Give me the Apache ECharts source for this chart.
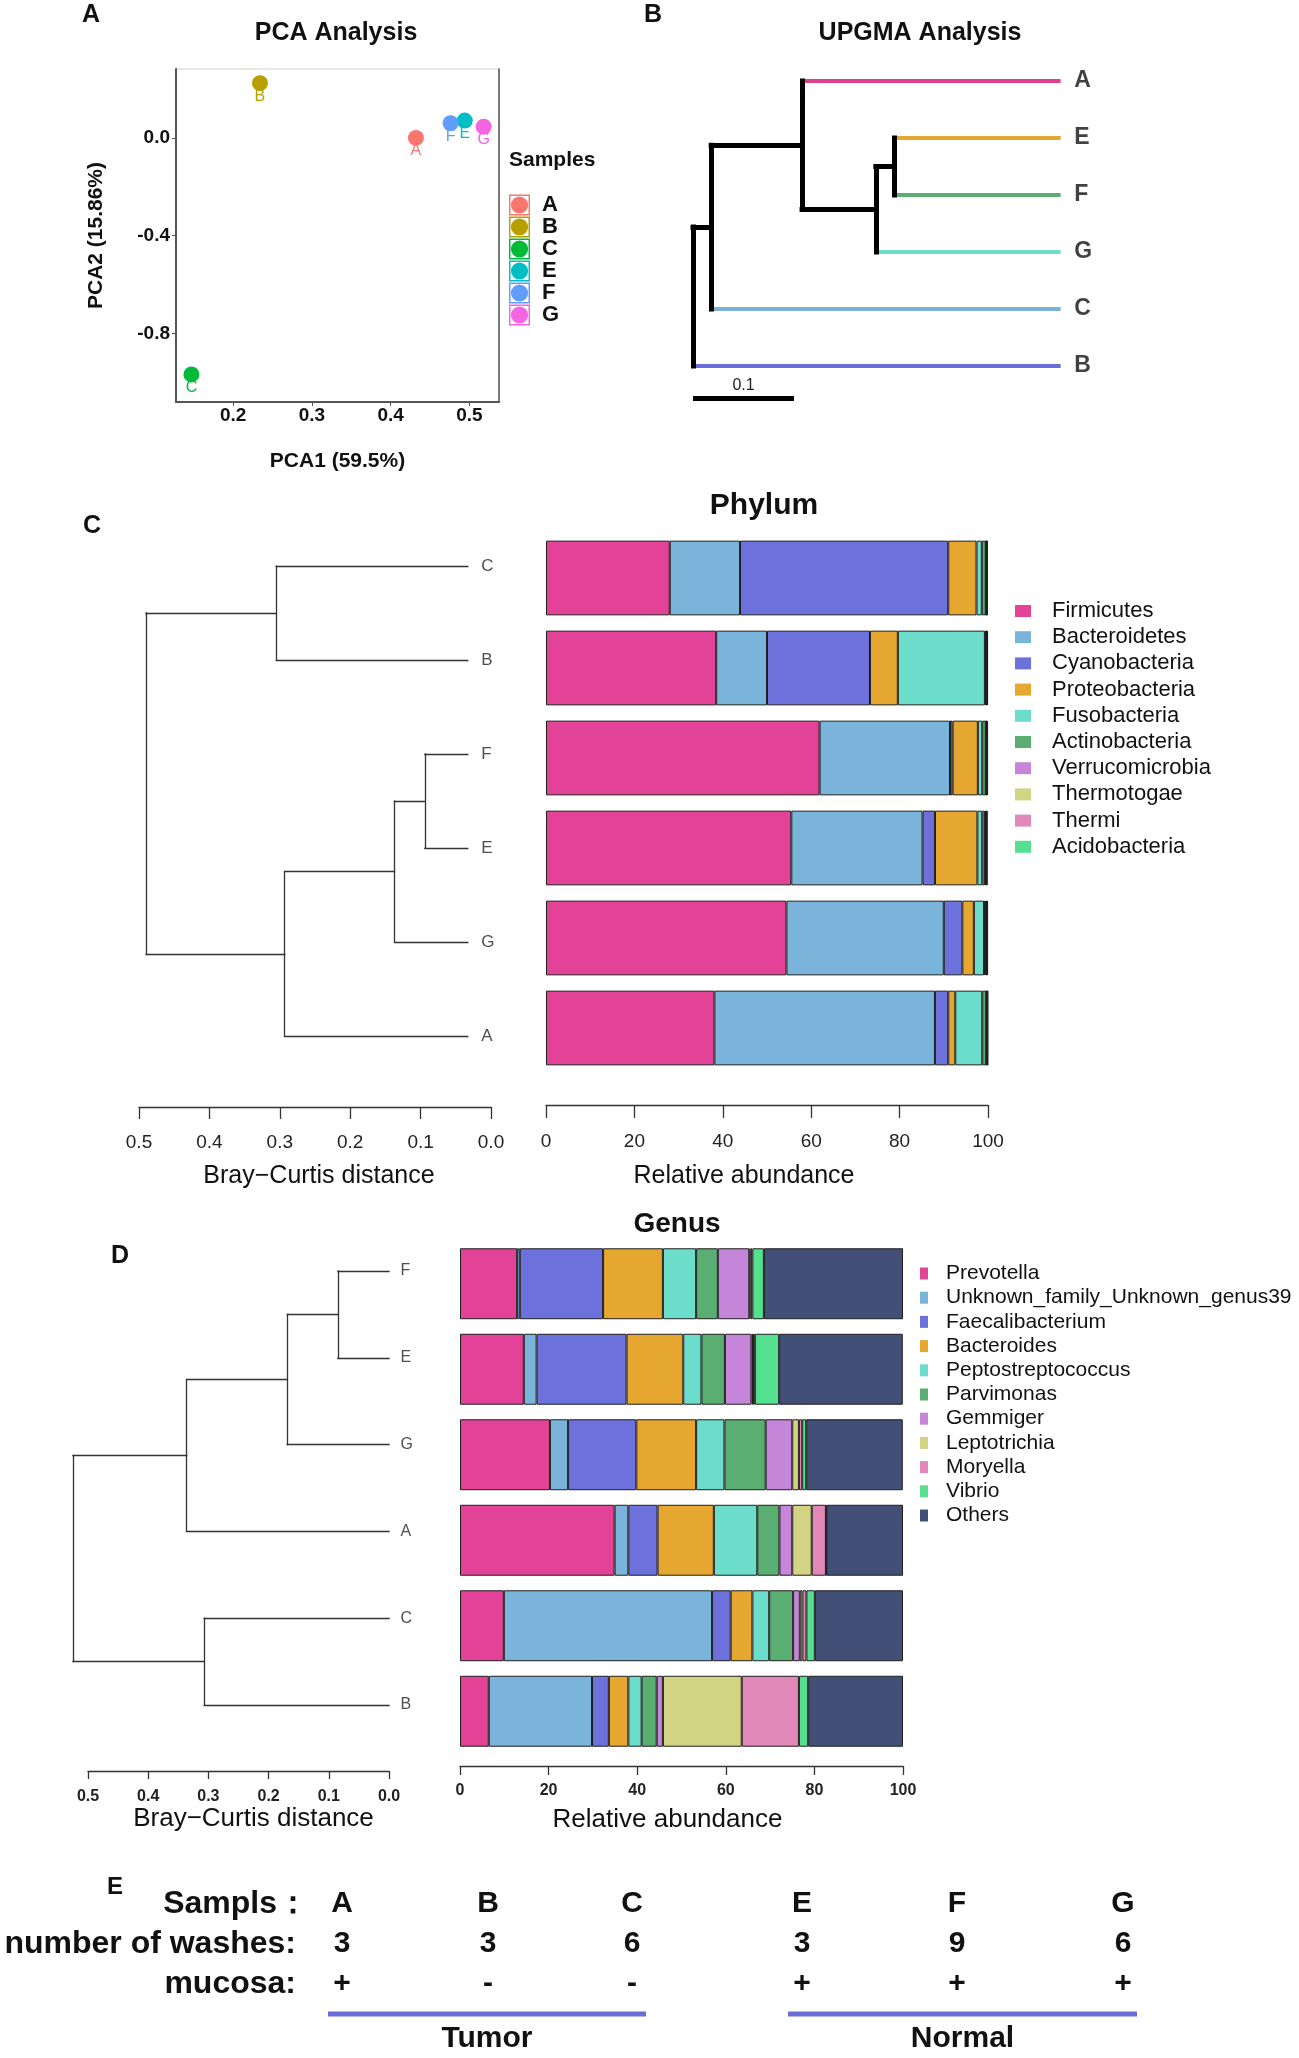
<!DOCTYPE html>
<html><head><meta charset="utf-8">
<script src="https://cdn.jsdelivr.net/npm/echarts@6/dist/echarts.min.js"></script>
<style>html,body{margin:0;padding:0;background:#fff}#c{width:1299px;height:2058px}</style>
</head><body><div id="c"></div>
<script>
// ---------------- Panel A: PCA ----------------
const pcaSamples = ['A', 'B', 'C', 'E', 'F', 'G'];
const pca1 = [0.432, 0.234, 0.147, 0.494, 0.476, 0.518];
const pca2 = [0.000, 0.224, -0.968, 0.071, 0.060, 0.046];
const pca1Ticks = [0.2, 0.3, 0.4, 0.5];
const pca2Ticks = [-0.8, -0.4, 0.0];

// ---------------- Panel B: UPGMA ----------------
const upgmaLeaves = ['A', 'E', 'F', 'G', 'C', 'B'];
const upgmaLeafDepth = 0.364;
const upgmaMerges = [['E', 'F', 0.199], ['n0', 'G', 0.181], ['A', 'n1', 0.108], ['n2', 'C', 0.018], ['n3', 'B', 0.0]];
const upgmaScaleBar = 0.1;

// ---------------- Panel C: Phylum ----------------
const phylumTreeLeaves = ['C', 'B', 'F', 'E', 'G', 'A'];
const phylumTreeMerges = [['F', 'E', 0.094], ['n0', 'G', 0.137], ['n1', 'A', 0.293], ['C', 'B', 0.305], ['n3', 'n2', 0.490]];
const phylumLeafHeight = 0.033;
const phylumSamples = ['C', 'B', 'F', 'E', 'G', 'A'];
const phylumNames = ['Firmicutes', 'Bacteroidetes', 'Cyanobacteria', 'Proteobacteria', 'Fusobacteria', 'Actinobacteria', 'Verrucomicrobia', 'Thermotogae', 'Thermi', 'Acidobacteria'];
const firmicutes      = [28.0, 38.5, 61.9, 55.5, 54.4, 38.1];
const bacteroidetes   = [15.9, 11.5, 29.5, 29.7, 35.6, 49.9];
const cyanobacteria   = [47.1, 23.3, 0.6, 2.8, 4.2, 3.0];
const proteobacteria  = [6.4, 6.3, 5.7, 9.6, 2.6, 1.6];
const fusobacteria    = [1.2, 19.7, 1.0, 1.1, 2.3, 6.1];
const actinobacteria  = [0.9, 0.2, 0.8, 0.6, 0.3, 0.9];
const verrucomicrobia = [0.1, 0.1, 0.1, 0.2, 0.2, 0.1];
const thermotogae     = [0.1, 0.1, 0.1, 0.1, 0.1, 0.1];
const thermi          = [0.1, 0.1, 0.1, 0.1, 0.1, 0.1];
const acidobacteria   = [0.1, 0.2, 0.2, 0.2, 0.2, 0.1];
const distTicksInterval = 0.1;
const abundanceInterval = 20;

// ---------------- Panel D: Genus ----------------
const genusTreeLeaves = ['F', 'E', 'G', 'A', 'C', 'B'];
const genusTreeMerges = [['F', 'E', 0.085], ['n0', 'G', 0.169], ['n1', 'A', 0.336], ['C', 'B', 0.307], ['n2', 'n3', 0.525]];
const genusLeafHeight = 0.0;
const genusSamples = ['F', 'E', 'G', 'A', 'C', 'B'];
const genusNames = ['Prevotella', 'Unknown_family_Unknown_genus39', 'Faecalibacterium', 'Bacteroides', 'Peptostreptococcus', 'Parvimonas', 'Gemmiger', 'Leptotrichia', 'Moryella', 'Vibrio', 'Others'];
const prevotella         = [12.9, 14.4, 20.3, 34.9, 9.9, 6.5];
const unknownGenus39     = [0.6, 2.9, 4.1, 3.1, 47.0, 23.3];
const faecalibacterium   = [18.8, 20.3, 15.4, 6.6, 4.2, 3.8];
const bacteroides        = [13.5, 12.8, 13.5, 12.7, 4.9, 4.4];
const peptostreptococcus = [7.5, 4.1, 6.4, 9.8, 3.8, 3.0];
const parvimonas         = [4.9, 5.3, 9.3, 5.0, 5.4, 3.4];
const gemmiger           = [7.1, 6.0, 6.0, 2.9, 1.5, 1.4];
const leptotrichia       = [0.3, 0.35, 1.5, 4.4, 0.6, 17.8];
const moryella           = [0.4, 0.4, 0.75, 3.2, 0.9, 12.9];
const vibrio             = [2.6, 5.5, 0.9, 0.1, 1.9, 2.1];
const others             = [31.4, 27.9, 21.8, 17.3, 19.9, 21.4];

// ---------------- Panel E: table ----------------
const eSamples = ['A', 'B', 'C', 'E', 'F', 'G'];
const eWashes = ['3', '3', '6', '3', '9', '6'];
const eMucosa = ['+', '-', '-', '+', '+', '+'];
const eRowLabels = ['Sampls：', 'number of washes:', 'mucosa:'];
const eGroups = [['Tumor', 0, 2], ['Normal', 3, 5]];

// ---------------- styles / layout ----------------
const FONT = "'Liberation Sans', Arial, Helvetica, sans-serif";
const pcaColors = ['#F8766D', '#B79F00', '#00BA38', '#00BFC4', '#619CFF', '#F564E3'];
const upgmaLeafColors = ['#E0418F', '#E5A631', '#5CAD71', '#6EDECB', '#7AB3DA', '#6B6ED6'];
const phylumColors = ['#E24396', '#7AB4DA', '#6D71DC', '#E6A730', '#6CDDCA', '#5BAE72', '#C586DA', '#D2D383', '#E288B8', '#55E08F'];
const genusColors = ['#E24396', '#7AB4DA', '#6D71DC', '#E6A730', '#6CDDCA', '#5BAE72', '#C586DA', '#D2D383', '#E288B8', '#55E08F', '#425077'];
const eColX = [342, 488, 632, 802, 957, 1123];
const eRowY = [1904, 1944, 1984];

const phylumSeriesData = [firmicutes, bacteroidetes, cyanobacteria, proteobacteria, fusobacteria, actinobacteria, verrucomicrobia, thermotogae, thermi, acidobacteria];
const genusSeriesData = [prevotella, unknownGenus39, faecalibacterium, bacteroides, peptostreptococcus, parvimonas, gemmiger, leptotrichia, moryella, vibrio, others];

function buildTree(leaves, merges, leafH) {
  const pos = {};
  leaves.forEach((n, i) => { pos[n] = { h: leafH, y: i, leaf: true, idx: i }; });
  const verts = [], horiz = [];
  merges.forEach((m, k) => {
    const a = pos[m[0]], b = pos[m[1]], h = m[2];
    verts.push({ coords: [[h, a.y], [h, b.y]] });
    [a, b].forEach(c => horiz.push({ coords: [[c.h, c.y], [h, c.y]], leaf: c.leaf, idx: c.idx }));
    pos['n' + k] = { h: h, y: (a.y + b.y) / 2, leaf: false };
  });
  return { verts, horiz };
}

function txt(text, x, y, size, weight, align, color) {
  return {
    type: 'text', silent: true, z: 100,
    style: {
      text: text, x: x, y: y, font: weight + ' ' + size + 'px ' + FONT, fill: color || '#111',
      align: align, verticalAlign: 'middle', textAlign: align, textVerticalAlign: 'middle'
    }
  };
}

const upgma = buildTree(upgmaLeaves, upgmaMerges, upgmaLeafDepth);
const phyTree = buildTree(phylumTreeLeaves, phylumTreeMerges, phylumLeafHeight);
const genTree = buildTree(genusTreeLeaves, genusTreeMerges, genusLeafHeight);

const keyIcon = 'path://M0 0H100V100H0Z M7 7V93H93V7Z M50 9A41 41 0 1 0 50.01 9Z';

const series = [];
// PCA points
pcaSamples.forEach((s, i) => {
  series.push({
    type: 'scatter', name: s, xAxisIndex: 0, yAxisIndex: 0,
    data: [[pca1[i], pca2[i]]], symbolSize: 16, itemStyle: { color: pcaColors[i], opacity: 1 },
    label: { show: true, position: 'bottom', distance: -3, formatter: s, color: pcaColors[i], fontSize: 16, fontFamily: FONT },
    silent: true
  });
});
// UPGMA tree
series.push({
  type: 'lines', coordinateSystem: 'cartesian2d', xAxisIndex: 1, yAxisIndex: 1, silent: true, clip: false,
  lineStyle: { width: 4, opacity: 1, cap: 'butt' },
  data: upgma.horiz.filter(h => h.leaf).map(h => ({ coords: h.coords, lineStyle: { color: upgmaLeafColors[h.idx] } }))
});
series.push({
  type: 'lines', coordinateSystem: 'cartesian2d', xAxisIndex: 1, yAxisIndex: 1, silent: true, clip: false,
  lineStyle: { width: 5, opacity: 1, color: '#000', cap: 'square' },
  data: upgma.verts.concat(upgma.horiz.filter(h => !h.leaf).map(h => ({ coords: h.coords })))
});
series.push({
  type: 'lines', coordinateSystem: 'cartesian2d', xAxisIndex: 1, yAxisIndex: 1, silent: true, clip: false,
  lineStyle: { width: 5, opacity: 1, color: '#000', cap: 'butt' },
  label: { show: true, position: 'middle', formatter: String(upgmaScaleBar), fontSize: 16, color: '#222', fontFamily: FONT, distance: 4 },
  data: [{ coords: [[0, upgmaLeaves.length - 1 + 0.56], [upgmaScaleBar, upgmaLeaves.length - 1 + 0.56]] }]
});
series.push({
  type: 'scatter', name: 'upgmaLabels', xAxisIndex: 1, yAxisIndex: 1, silent: true, symbolSize: 1,
  itemStyle: { color: 'rgba(0,0,0,0)' },
  data: upgmaLeaves.map((n, i) => ({ name: n, value: [upgmaLeafDepth, i] })),
  label: { show: true, position: 'right', distance: 13, formatter: '{b}', fontSize: 23, fontWeight: 'bold', color: '#111', fontFamily: FONT }
});
// Phylum dendrogram
series.push({
  type: 'lines', coordinateSystem: 'cartesian2d', xAxisIndex: 2, yAxisIndex: 2, silent: true, clip: false,
  lineStyle: { width: 1.3, opacity: 1, color: '#333', cap: 'square' },
  data: phyTree.verts.concat(phyTree.horiz.map(h => ({ coords: h.coords })))
});
series.push({
  type: 'scatter', name: 'phyTreeLabels', xAxisIndex: 2, yAxisIndex: 2, silent: true, symbolSize: 1,
  itemStyle: { color: 'rgba(0,0,0,0)' },
  data: phylumTreeLeaves.map((n, i) => ({ name: n, value: [phylumLeafHeight, i] })),
  label: { show: true, position: 'right', distance: 13, formatter: '{b}', fontSize: 17, color: '#222', fontFamily: FONT }
});
// Phylum bars
phylumNames.forEach((n, k) => {
  series.push({
    type: 'bar', name: n, stack: 'phylum', xAxisIndex: 3, yAxisIndex: 3, silent: true,
    barCategoryGap: '17%', data: phylumSeriesData[k],
    itemStyle: { color: phylumColors[k], borderColor: '#1e1e1e', borderWidth: 1 }
  });
});
// Genus dendrogram
series.push({
  type: 'lines', coordinateSystem: 'cartesian2d', xAxisIndex: 4, yAxisIndex: 4, silent: true, clip: false,
  lineStyle: { width: 1.3, opacity: 1, color: '#333', cap: 'square' },
  data: genTree.verts.concat(genTree.horiz.map(h => ({ coords: h.coords })))
});
series.push({
  type: 'scatter', name: 'genTreeLabels', xAxisIndex: 4, yAxisIndex: 4, silent: true, symbolSize: 1,
  itemStyle: { color: 'rgba(0,0,0,0)' },
  data: genusTreeLeaves.map((n, i) => ({ name: n, value: [genusLeafHeight, i] })),
  label: { show: true, position: 'right', distance: 11, formatter: '{b}', fontSize: 16, color: '#222', fontFamily: FONT }
});
// Genus bars
genusNames.forEach((n, k) => {
  series.push({
    type: 'bar', name: n, stack: 'genus', xAxisIndex: 5, yAxisIndex: 5, silent: true,
    barCategoryGap: '17%', data: genusSeriesData[k],
    itemStyle: { color: genusColors[k], borderColor: '#1e1e1e', borderWidth: 1 }
  });
});

function rAxis(gridIndex, min, max, interval, offset, tickLen, labelSize, labelWeight, labelMargin, name, nameGap, nameSize, inverse, decimals, nameShift) {
  const pad = nameShift > 0 ? [0, 0, 0, 2 * nameShift] : [0, -2 * nameShift, 0, 0];
  return {
    type: 'value', gridIndex: gridIndex, min: min, max: max, interval: interval, inverse: inverse, offset: offset,
    position: 'bottom',
    axisLine: { show: true, onZero: false, lineStyle: { color: '#333', width: 1.3 } },
    axisTick: { show: true, length: tickLen, lineStyle: { color: '#333', width: 1.3 } },
    axisLabel: { show: true, fontSize: labelSize, fontWeight: labelWeight, color: '#222', margin: labelMargin, fontFamily: FONT,
      showMinLabel: true, showMaxLabel: true, formatter: v => v.toFixed(decimals) },
    splitLine: { show: false },
    name: name, nameLocation: 'middle', nameGap: nameGap,
    nameTextStyle: { fontSize: nameSize, color: '#111', fontFamily: FONT, padding: pad }
  };
}
function hiddenValue(gridIndex, min, max, inverse) {
  return { type: 'value', gridIndex: gridIndex, min: min, max: max, inverse: !!inverse, show: false, splitLine: { show: false } };
}

const graphicEls = [
  txt('A', 91, 15, 25, 'bold', 'center'),
  txt('B', 653, 15, 25, 'bold', 'center'),
  txt('C', 92, 526, 25, 'bold', 'center'),
  txt('D', 120, 1256, 25, 'bold', 'center'),
  txt('E', 115, 1887, 24, 'bold', 'center'),
  txt('PCA Analysis', 336, 33, 25, 'bold', 'center'),
  txt('UPGMA Analysis', 920, 33, 25, 'bold', 'center'),
  txt('Phylum', 764, 506, 30, 'bold', 'center'),
  txt('Genus', 677, 1224, 28, 'bold', 'center'),
  txt('Samples', 509, 160, 21, 'bold', 'left')
];
// Panel E table
eRowLabels.forEach((l, r) => graphicEls.push(txt(l, r === 0 ? 309 : 296, eRowY[r], 32, 'bold', 'right')));
[eSamples, eWashes, eMucosa].forEach((row, r) => row.forEach((v, c) => graphicEls.push(txt(v, eColX[c], eRowY[r], 30, 'bold', 'center'))));
eGroups.forEach(g => {
  const x1 = eColX[g[1]] - 14, x2 = eColX[g[2]] + 14;
  graphicEls.push({ type: 'line', silent: true, shape: { x1: x1, y1: 2014, x2: x2, y2: 2014 }, style: { stroke: '#6B6ED6', lineWidth: 5 } });
  graphicEls.push(txt(g[0], (x1 + x2) / 2, 2039, 30, 'bold', 'center'));
});

const option = {
  animation: false,
  backgroundColor: '#fff',
  textStyle: { fontFamily: FONT },
  grid: [
    { left: 176, top: 69, width: 323, height: 333, show: true, borderColor: '#d0d0d0', borderWidth: 1, backgroundColor: '#fff' },
    { left: 693, top: 81, width: 404, height: 285 },
    { left: 139, top: 566, width: 352, height: 470 },
    { left: 546, top: 533, width: 442, height: 540 },
    { left: 88, top: 1271, width: 301, height: 434 },
    { left: 460, top: 1241, width: 443, height: 513 }
  ],
  xAxis: [
    {
      type: 'value', gridIndex: 0, min: 0.1274, max: 0.5375, position: 'bottom',
      axisLine: { show: true, onZero: false, lineStyle: { color: '#555', width: 2 } },
      axisTick: { show: true, length: 4, customValues: pca1Ticks, lineStyle: { color: '#555' } },
      axisLabel: { customValues: pca1Ticks, formatter: v => v.toFixed(1), fontSize: 19, fontWeight: 'bold', color: '#111', margin: 4, fontFamily: FONT },
      splitLine: { show: false },
      name: 'PCA1 (59.5%)', nameLocation: 'middle', nameGap: 49,
      nameTextStyle: { fontSize: 21, fontWeight: 'bold', color: '#111', fontFamily: FONT }
    },
    hiddenValue(1, 0, 0.4),
    rAxis(2, 0, 0.5, distTicksInterval, 71, 12, 19, 'normal', 26, 'Bray\u2212Curtis distance', 57, 25, true, 1, 4),
    rAxis(3, 0, 100, abundanceInterval, 32, 13, 19, 'normal', 27, 'Relative abundance', 59, 25, false, 0, -23),
    rAxis(4, 0, 0.5, distTicksInterval, 66, 8, 16, 'bold', 18, 'Bray\u2212Curtis distance', 34, 26, true, 1, 15),
    rAxis(5, 0, 100, abundanceInterval, 12, 9, 16, 'bold', 17, 'Relative abundance', 41, 26, false, 0, -14)
  ],
  yAxis: [
    {
      type: 'value', gridIndex: 0, min: -1.081, max: 0.282, position: 'left',
      axisLine: { show: true, onZero: false, lineStyle: { color: '#555', width: 2 } },
      axisTick: { show: true, length: 4, customValues: pca2Ticks, lineStyle: { color: '#555' } },
      axisLabel: { customValues: pca2Ticks, formatter: v => v.toFixed(1), fontSize: 19, fontWeight: 'bold', color: '#111', margin: 6, fontFamily: FONT },
      splitLine: { show: false },
      name: 'PCA2 (15.86%)', nameLocation: 'middle', nameGap: 69,
      nameTextStyle: { fontSize: 21, fontWeight: 'bold', color: '#111', fontFamily: FONT }
    },
    hiddenValue(1, 0, upgmaLeaves.length - 1, true),
    hiddenValue(2, 0, phylumTreeLeaves.length - 1, true),
    { type: 'category', gridIndex: 3, data: phylumSamples, inverse: true, show: false },
    hiddenValue(4, 0, genusTreeLeaves.length - 1, true),
    { type: 'category', gridIndex: 5, data: genusSamples, inverse: true, show: false },
    {
      type: 'value', gridIndex: 0, min: -1.081, max: 0.282, position: 'right',
      axisLine: { show: true, onZero: false, lineStyle: { color: '#555', width: 1.5 } },
      axisTick: { show: false }, axisLabel: { show: false }, splitLine: { show: false }
    }
  ],
  legend: [
    {
      orient: 'vertical', left: 509, top: 194, padding: 0, itemGap: 0, itemWidth: 21, itemHeight: 21,
      selectedMode: false, data: pcaSamples.map(n => ({ name: n, icon: keyIcon })),
      itemStyle: { borderWidth: 0 },
      textStyle: { fontSize: 22, fontWeight: 'bold', color: '#111', lineHeight: 21, padding: [0, 0, 0, 7], fontFamily: FONT }
    },
    {
      orient: 'vertical', left: 1015, top: 600, padding: 0, itemGap: 4.2, itemWidth: 16, itemHeight: 12,
      selectedMode: false, icon: 'rect', data: phylumNames, itemStyle: { borderWidth: 0 },
      textStyle: { fontSize: 22, color: '#111', lineHeight: 22, padding: [0, 0, 0, 16], fontFamily: FONT }
    },
    {
      orient: 'vertical', left: 920, top: 1263, padding: 0, itemGap: 3.2, itemWidth: 8, itemHeight: 12,
      selectedMode: false, icon: 'rect', data: genusNames, itemStyle: { borderWidth: 0 },
      textStyle: { fontSize: 21, color: '#111', lineHeight: 20, padding: [0, 0, 0, 13], fontFamily: FONT }
    }
  ],
  graphic: { elements: graphicEls },
  series: series
};

const chart = echarts.init(document.getElementById('c'), null, { renderer: 'canvas', width: 1299, height: 2058 });
chart.setOption(option);
</script>
</body></html>
